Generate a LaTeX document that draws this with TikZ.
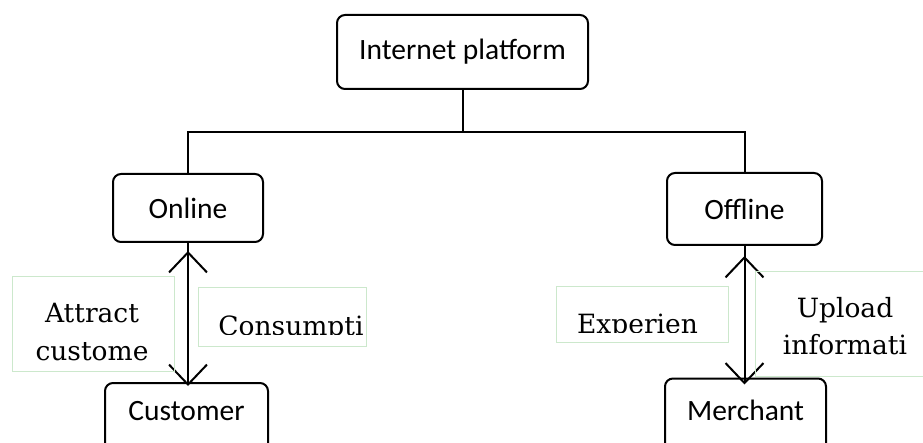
\documentclass[tikz,border=0pt]{standalone}
\usepackage{fontspec}
\setmainfont{DejaVu Serif}
\newfontfamily\boxfont{Carlito}
\usetikzlibrary{arrows.meta}
\definecolor{tbgreen}{RGB}{204,232,204}
\tikzset{
  mainbox/.style={draw=black, line width=2pt, rounded corners=8pt, inner sep=0pt, font=\boxfont\fontsize{29.5}{34}\selectfont},
  conn/.style={draw=black, line width=2pt},
  dbl/.style={draw=black, line width=2pt, {Straight Barb[length=20pt,width=38pt]}-{Straight Barb[length=20pt,width=38pt]}},
  tbox/.style={draw=tbgreen, line width=1pt},
  ttext/.style={font=\fontsize{26.5}{32}\selectfont, anchor=base, inner sep=0pt}
}
\begin{document}
\begin{tikzpicture}[x=1pt,y=-1pt]
\useasboundingbox (0,0) rectangle (923,443);
\clip (0,0) rectangle (923,443);
% main boxes
\node[mainbox, minimum width=251pt, minimum height=74pt] (ip) at (462.5,52) {Internet platform};
\node[mainbox, minimum width=150pt, minimum height=68pt] (on) at (188,208) {Online};
\node[mainbox, minimum width=155pt, minimum height=72pt] (off) at (744.5,209) {Offline};
\node[mainbox, minimum width=163pt, text height=37pt, text depth=33pt] (cu) at (186.5,418) {Customer};
\node[mainbox, minimum width=161pt, text height=42pt, text depth=33pt] (me) at (745.5,416) {Merchant};
% tree connectors
\coordinate (hb) at (462.5,132);
\draw[conn] (ip.south) -- (hb);
\draw[conn] (on.north) |- (hb) -| (off.north);
% double arrows
\draw[conn] (on.south) -- (on.south |- cu.north);
\draw[dbl, shorten <=8pt, shorten >=-4pt] (on.south) -- (on.south |- cu.north);
\draw[conn] (off.south) -- (off.south |- me.north);
\draw[dbl, shorten <=10pt, shorten >=-7pt] (off.south) -- (off.south |- me.north);
% text boxes
\draw[tbox] (12,277) rectangle (174,371);
\node[ttext] (t1a) at (92,323) {Attract};
\node[ttext] (t1b) at (92,360) {custome};
\draw[tbox] (198,288) rectangle (366,346);
\begin{scope}
\clip (198,288) rectangle (366,335);
\node[ttext] (t2) at (291,336) {Consumpti};
\end{scope}
\draw[tbox] (556,287) rectangle (728,342);
\begin{scope}
\clip (556,287) rectangle (728,333);
\node[ttext] (t3) at (637.5,334) {Experien};
\end{scope}
\draw[tbox] (755,272) rectangle (940,376);
\node[ttext] (t4a) at (845,318) {Upload};
\node[ttext] (t4b) at (845,355) {informati};
\end{tikzpicture}
\end{document}
